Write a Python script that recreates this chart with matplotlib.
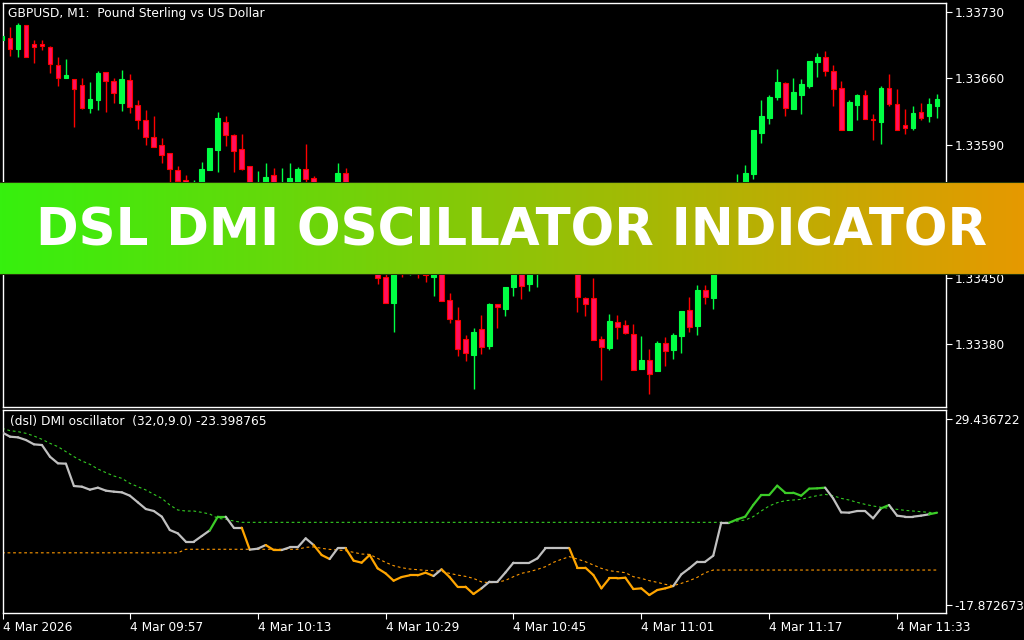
import numpy as np
import matplotlib
matplotlib.use("Agg")
import matplotlib.pyplot as plt
from matplotlib.collections import LineCollection

# ---------------------------------------------------------------
# datos (GBPUSD M1, una vela por minuto)
# ---------------------------------------------------------------
hora_inicio = "09:41"

aperturas = [
    1.33700, 1.33703, 1.33691, 1.33716, 1.33696, 1.33696, 1.33693, 1.33674, 1.33660, 1.33659,
    1.33653, 1.33629, 1.33637, 1.33667, 1.33657, 1.33634, 1.33658, 1.33632, 1.33616, 1.33598,
    1.33590, 1.33581, 1.33563, 1.33553, 1.33537, 1.33547, 1.33563, 1.33585, 1.33614, 1.33600,
    1.33586, 1.33568, 1.33532, 1.33542, 1.33558, 1.33532, 1.33540, 1.33542, 1.33564, 1.33555,
    1.33537, 1.33527, 1.33537, 1.33560, 1.33532, 1.33505, 1.33484, 1.33466, 1.33451, 1.33423,
    1.33463, 1.33456, 1.33471, 1.33466, 1.33451, 1.33474, 1.33426, 1.33405, 1.33385, 1.33368,
    1.33396, 1.33378, 1.33422, 1.33417, 1.33440, 1.33466, 1.33443, 1.33458, 1.33479, 1.33495,
    1.33484, 1.33460, 1.33471, 1.33428, 1.33428, 1.33385, 1.33376, 1.33403, 1.33400, 1.33391,
    1.33354, 1.33363, 1.33352, 1.33381, 1.33374, 1.33388, 1.33416, 1.33399, 1.33437, 1.33428,
    1.33479, 1.33505, 1.33527, 1.33548, 1.33559, 1.33602, 1.33618, 1.33640, 1.33655, 1.33628,
    1.33643, 1.33652, 1.33677, 1.33683, 1.33668, 1.33650, 1.33606, 1.33632, 1.33643, 1.33617,
    1.33614, 1.33650, 1.33633, 1.33611, 1.33608, 1.33625, 1.33620, 1.33631]

maximos = [
    1.33711, 1.33714, 1.33718, 1.33716, 1.33700, 1.33700, 1.33694, 1.33683, 1.33680, 1.33659,
    1.33660, 1.33656, 1.33668, 1.33667, 1.33660, 1.33669, 1.33665, 1.33637, 1.33627, 1.33620,
    1.33597, 1.33581, 1.33568, 1.33558, 1.33553, 1.33572, 1.33587, 1.33625, 1.33620, 1.33601,
    1.33601, 1.33568, 1.33562, 1.33571, 1.33566, 1.33566, 1.33571, 1.33567, 1.33591, 1.33557,
    1.33542, 1.33548, 1.33571, 1.33566, 1.33537, 1.33513, 1.33490, 1.33474, 1.33458, 1.33469,
    1.33471, 1.33479, 1.33477, 1.33474, 1.33479, 1.33479, 1.33434, 1.33419, 1.33389, 1.33397,
    1.33411, 1.33423, 1.33422, 1.33440, 1.33474, 1.33471, 1.33474, 1.33490, 1.33505, 1.33500,
    1.33490, 1.33479, 1.33477, 1.33430, 1.33450, 1.33388, 1.33412, 1.33411, 1.33405, 1.33401,
    1.33388, 1.33375, 1.33383, 1.33387, 1.33392, 1.33415, 1.33430, 1.33442, 1.33442, 1.33484,
    1.33513, 1.33537, 1.33559, 1.33569, 1.33606, 1.33637, 1.33643, 1.33670, 1.33656, 1.33660,
    1.33659, 1.33678, 1.33687, 1.33689, 1.33674, 1.33657, 1.33637, 1.33644, 1.33648, 1.33622,
    1.33652, 1.33665, 1.33649, 1.33628, 1.33631, 1.33634, 1.33639, 1.33644]

minimos = [
    1.33695, 1.33684, 1.33683, 1.33683, 1.33676, 1.33690, 1.33666, 1.33652, 1.33660, 1.33609,
    1.33628, 1.33624, 1.33627, 1.33625, 1.33634, 1.33626, 1.33624, 1.33607, 1.33590, 1.33588,
    1.33571, 1.33548, 1.33544, 1.33536, 1.33532, 1.33542, 1.33563, 1.33561, 1.33589, 1.33561,
    1.33563, 1.33537, 1.33527, 1.33537, 1.33534, 1.33527, 1.33534, 1.33537, 1.33544, 1.33532,
    1.33519, 1.33521, 1.33532, 1.33527, 1.33498, 1.33477, 1.33460, 1.33443, 1.33423, 1.33393,
    1.33451, 1.33453, 1.33450, 1.33445, 1.33431, 1.33425, 1.33402, 1.33367, 1.33362, 1.33333,
    1.33369, 1.33375, 1.33397, 1.33410, 1.33431, 1.33427, 1.33436, 1.33440, 1.33474, 1.33479,
    1.33458, 1.33456, 1.33414, 1.33410, 1.33384, 1.33342, 1.33374, 1.33385, 1.33391, 1.33353,
    1.33354, 1.33327, 1.33352, 1.33357, 1.33364, 1.33371, 1.33393, 1.33389, 1.33422, 1.33417,
    1.33474, 1.33500, 1.33521, 1.33542, 1.33554, 1.33592, 1.33612, 1.33637, 1.33620, 1.33628,
    1.33622, 1.33650, 1.33661, 1.33663, 1.33631, 1.33606, 1.33606, 1.33616, 1.33617, 1.33595,
    1.33591, 1.33631, 1.33606, 1.33601, 1.33606, 1.33616, 1.33614, 1.33618]

cierres = [
    1.33705, 1.33691, 1.33716, 1.33683, 1.33693, 1.33694, 1.33675, 1.33660, 1.33664, 1.33649,
    1.33629, 1.33638, 1.33666, 1.33657, 1.33645, 1.33659, 1.33630, 1.33616, 1.33598, 1.33588,
    1.33579, 1.33564, 1.33552, 1.33540, 1.33547, 1.33564, 1.33587, 1.33618, 1.33600, 1.33583,
    1.33564, 1.33542, 1.33548, 1.33556, 1.33540, 1.33548, 1.33555, 1.33564, 1.33554, 1.33537,
    1.33527, 1.33542, 1.33560, 1.33532, 1.33505, 1.33484, 1.33466, 1.33450, 1.33423, 1.33463,
    1.33456, 1.33471, 1.33458, 1.33453, 1.33474, 1.33425, 1.33406, 1.33375, 1.33371, 1.33393,
    1.33377, 1.33422, 1.33419, 1.33440, 1.33466, 1.33441, 1.33466, 1.33479, 1.33495, 1.33484,
    1.33463, 1.33474, 1.33430, 1.33422, 1.33384, 1.33377, 1.33404, 1.33398, 1.33392, 1.33353,
    1.33363, 1.33348, 1.33381, 1.33373, 1.33389, 1.33415, 1.33398, 1.33437, 1.33430, 1.33479,
    1.33505, 1.33527, 1.33548, 1.33560, 1.33606, 1.33620, 1.33640, 1.33656, 1.33629, 1.33646,
    1.33654, 1.33678, 1.33683, 1.33668, 1.33649, 1.33606, 1.33635, 1.33643, 1.33617, 1.33616,
    1.33650, 1.33633, 1.33606, 1.33608, 1.33624, 1.33618, 1.33633, 1.33638]

# oscilador DMI (dsl) y sus dos niveles
dmi = [
    26.05, 24.94, 24.77, 24.09, 22.99, 22.82, 19.85, 18.16, 18.07, 12.39,
    12.22, 11.46, 11.97, 11.21, 10.95, 10.78, 9.93, 8.24, 6.54, 6.03,
    4.59, 1.20, 0.35, -1.77, -1.77, -0.33, 1.11, 4.59, 4.59, 1.79,
    1.79, -3.80, -3.55, -2.62, -3.89, -3.89, -3.21, -3.21, -0.92, -2.62,
    -5.16, -6.18, -3.46, -3.46, -6.60, -7.11, -5.16, -8.55, -9.82, -11.69,
    -10.76, -10.33, -10.33, -9.65, -10.50, -8.81, -10.76, -13.22, -13.22, -15.08,
    -13.64, -11.94, -11.94, -9.60, -7.11, -7.11, -7.11, -6.01, -3.46, -3.46,
    -3.46, -3.46, -8.38, -8.38, -10.25, -13.64, -11.10, -11.10, -10.93, -13.81,
    -13.64, -15.34, -14.06, -13.64, -13.05, -10.08, -8.55, -6.86, -6.86, -5.33,
    3.07, 3.07, 3.91, 4.59, 7.56, 10.10, 10.10, 12.48, 10.70, 10.70,
    9.93, 11.72, 11.80, 11.97, 9.26, 5.69, 5.61, 6.03, 6.03, 4.17,
    6.71, 7.56, 4.85, 4.59, 4.59, 4.85, 5.19, 5.61]

nivel_sup = [
    27.06, 26.47, 26.22, 25.79, 25.11, 24.27, 23.25, 22.40, 21.13, 19.86,
    18.75, 17.91, 16.72, 15.79, 14.94, 14.34, 13.07, 12.22, 11.38, 10.27,
    9.26, 7.56, 6.29, 6.03, 6.03, 5.69, 5.27, 4.17, 3.91, 3.49,
    3.15, 3.15, 3.15, 3.15, 3.15, 3.15, 3.15, 3.15, 3.15, 3.15,
    3.15, 3.15, 3.15, 3.15, 3.15, 3.15, 3.15, 3.15, 3.15, 3.15,
    3.15, 3.15, 3.15, 3.15, 3.15, 3.15, 3.15, 3.15, 3.15, 3.15,
    3.15, 3.15, 3.15, 3.15, 3.15, 3.15, 3.15, 3.15, 3.15, 3.15,
    3.15, 3.15, 3.15, 3.15, 3.15, 3.15, 3.15, 3.15, 3.15, 3.15,
    3.15, 3.15, 3.15, 3.15, 3.15, 3.15, 3.15, 3.15, 3.15, 3.15,
    3.15, 3.15, 3.49, 3.74, 4.59, 6.03, 7.31, 8.15, 8.66, 8.83,
    9.00, 9.51, 9.93, 10.27, 9.93, 9.26, 8.83, 8.24, 7.73, 7.31,
    6.97, 6.71, 6.46, 6.20, 6.03, 5.86, 5.69, 5.52]

nivel_inf = [
    -4.60, -4.60, -4.60, -4.60, -4.60, -4.60, -4.60, -4.60, -4.60, -4.60,
    -4.60, -4.60, -4.60, -4.60, -4.60, -4.60, -4.60, -4.60, -4.60, -4.60,
    -4.60, -4.60, -4.60, -3.70, -3.70, -3.70, -3.70, -3.70, -3.70, -3.70,
    -3.70, -3.70, -3.70, -3.70, -3.70, -3.70, -3.70, -3.70, -3.20, -3.10,
    -3.46, -3.72, -3.89, -4.06, -4.48, -4.91, -5.00, -6.01, -7.03, -7.87,
    -8.38, -8.72, -8.89, -9.06, -9.15, -9.32, -9.82, -10.25, -10.59, -11.10,
    -12.00, -12.20, -12.10, -11.60, -10.67, -9.82, -9.40, -8.81, -8.13, -7.03,
    -6.26, -5.58, -6.18, -6.86, -7.70, -8.55, -9.15, -9.40, -9.65, -10.67,
    -11.10, -11.69, -12.11, -12.62, -12.96, -12.37, -11.69, -10.84, -9.65, -8.98,
    -8.98, -8.98, -8.98, -8.98, -8.98, -8.98, -8.98, -8.98, -8.98, -8.98,
    -8.98, -8.98, -8.98, -8.98, -8.98, -8.98, -8.98, -8.98, -8.98, -8.98,
    -8.98, -8.98, -8.98, -8.98, -8.98, -8.98, -8.98, -8.98]

# la etiqueta 1.33520 queda tapada por la franja del titulo
precios_eje = [1.33730, 1.33660, 1.33590, 1.33450, 1.33380]
osc_max = 29.436722
osc_min = -17.872673
horas_eje = ["09:57", "10:13", "10:29", "10:45", "11:01", "11:17", "11:33"]

titulo = "GBPUSD, M1:  Pound Sterling vs US Dollar"
etiqueta_osc = "(dsl) DMI oscillator  (32,0,9.0) -23.398765"
banner = "DSL DMI OSCILLATOR INDICATOR"

# ---------------------------------------------------------------
ANCHO, ALTO = 1024, 640
VERDE = "#00ff44"
ROJO_BORDE = "#ff0000"
ROJO_CUERPO = "#ff1060"
BLANCO = "#ffffff"
TAM = 8.7


def rect(izq, arriba, der, abajo):
    return [izq / ANCHO, 1 - abajo / ALTO, (der - izq) / ANCHO, (abajo - arriba) / ALTO]


def minutos(hhmm):
    h, m = hhmm.split(":")
    return int(h) * 60 + int(m)


def preparar_ejes(ax):
    ax.set_facecolor("black")
    for lado in ax.spines.values():
        lado.set_color(BLANCO)
        lado.set_linewidth(1.0)
    ax.yaxis.tick_right()
    ax.tick_params(colors=BLANCO, labelcolor=BLANCO, labelsize=TAM, length=4, width=0.8, pad=2)
    ax.set_xlim(0.125, 118.125)


fig = plt.figure(figsize=(ANCHO / 100, ALTO / 100), dpi=100, facecolor="black")

# ---------------------------- velas ----------------------------
ax1 = fig.add_axes(rect(3, 3, 946, 407))
preparar_ejes(ax1)
x = np.arange(len(aperturas))
o = np.array(aperturas)
h = np.array(maximos)
l = np.array(minimos)
c = np.array(cierres)
sube = c >= o

ax1.vlines(x[sube], l[sube], h[sube], color=VERDE, linewidth=1.0, zorder=2)
ax1.vlines(x[~sube], l[~sube], h[~sube], color=ROJO_BORDE, linewidth=1.0, zorder=2)
ax1.bar(x[sube], (c - o)[sube], bottom=o[sube], width=0.6, color=VERDE,
        edgecolor=VERDE, linewidth=0.8, zorder=3)
ax1.bar(x[~sube], (o - c)[~sube], bottom=c[~sube], width=0.6, color=ROJO_CUERPO,
        edgecolor=ROJO_BORDE, linewidth=0.8, zorder=3)

ax1.set_ylim(1.333136, 1.337395)
ax1.set_yticks(precios_eje)
ax1.set_yticklabels(["%.5f" % p for p in precios_eje])
ax1.set_xticks([])
ax1.text(5 / 943, 1 - 10 / 404, titulo, transform=ax1.transAxes, color=BLANCO,
         fontsize=8.8, va="center", ha="left")

# -------------------------- oscilador --------------------------
ax2 = fig.add_axes(rect(3, 410, 946, 613))
preparar_ejes(ax2)
por_px = (osc_max - osc_min) / 186.0
ax2.set_ylim(osc_min - 8 * por_px, osc_max + 9 * por_px)
ax2.set_yticks([osc_max, osc_min])
ax2.set_yticklabels(["%.6f" % osc_max, "%.6f" % osc_min])

xo = np.arange(len(dmi))
ax2.plot(xo, nivel_sup, color="#33cc22", linewidth=0.8, dashes=(2.5, 2.5), zorder=2)
ax2.plot(xo, nivel_inf, color="#ff9900", linewidth=0.8, dashes=(2.5, 2.5), zorder=2)

valores = np.array(dmi)
colores = []
segmentos = []
for k in range(1, len(valores)):
    if valores[k] > nivel_sup[k]:
        col = "#3ccc28"
    elif valores[k] < nivel_inf[k]:
        col = "#ffa500"
    else:
        col = "#c0c0c0"
    segmentos.append([(k - 1, valores[k - 1]), (k, valores[k])])
    colores.append(col)
ax2.add_collection(LineCollection(segmentos, colors=colores, linewidths=1.6,
                                  capstyle="round", joinstyle="round", zorder=3))

ax2.text(7 / 943, 1 - 12 / 203, etiqueta_osc, transform=ax2.transAxes, color=BLANCO,
         fontsize=8.8, va="center", ha="left")

posiciones = [0.125] + [minutos(t) - minutos(hora_inicio) for t in horas_eje]
textos = ["4 Mar 2026"] + ["4 Mar " + t for t in horas_eje]
ax2.set_xticks(posiciones)
ax2.set_xticklabels(textos, ha="left")
ax2.tick_params(axis="x", length=4, pad=2)

# --------------------------- banner ----------------------------
ax3 = fig.add_axes(rect(0, 182, 1024, 275))
izq = np.array([0x36, 0xf0, 0x0e]) / 255.0
der = np.array([0xe6, 0x99, 0x00]) / 255.0
t = np.linspace(0, 1, 512)[None, :, None]
degradado = izq[None, None, :] * (1 - t) + der[None, None, :] * t
ax3.imshow(degradado, aspect="auto", extent=[0, 1, 0, 1])
ax3.set_xlim(0, 1)
ax3.set_ylim(0, 1)
ax3.set_xticks([])
ax3.set_yticks([])
for lado in ax3.spines.values():
    lado.set_visible(False)
ax3.axhline(0.995, color="#24350a", linewidth=1.5)
ax3.axhline(0.005, color="#24350a", linewidth=1.5)
ax3.text(0.5, (275 - 246) / 93, banner, color=BLANCO, fontsize=37, fontweight="bold",
         ha="center", va="baseline", family="DejaVu Sans")

fig.savefig("out.png", dpi=100, facecolor="black")
